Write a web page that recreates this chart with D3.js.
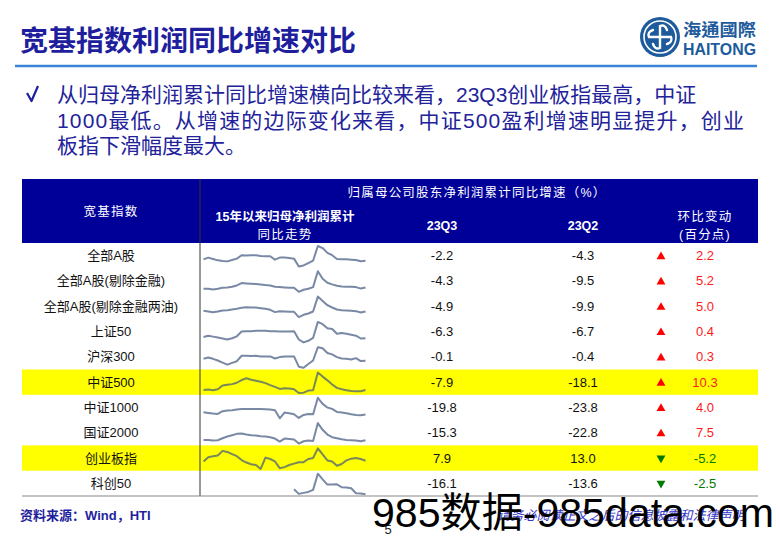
<!DOCTYPE html>
<html>
<head>
<meta charset="utf-8">
<script src="https://cdn.jsdelivr.net/npm/d3@7"></script>
<style>
  body { margin: 0; background: #fff; }
  svg { display: block; font-family: "Liberation Sans", "Noto Sans CJK SC", sans-serif; }
</style>
</head>
<body>
<svg width="780" height="539"></svg>
<script>
// table values
var indexNames = ["全部A股", "全部A股(剔除金融)", "全部A股(剔除金融两油)", "上证50", "沪深300",
  "中证500", "中证1000", "国证2000", "创业板指", "科创50"];
var q3Values = [-2.2, -4.3, -4.9, -6.3, -0.1, -7.9, -19.8, -15.3, 7.9, -16.1];
var q2Values = [-4.3, -9.5, -9.9, -6.7, -0.4, -18.1, -23.8, -22.8, 13.0, -13.6];
var qoqChange = [2.2, 5.2, 5.0, 0.4, 0.3, 10.3, 4.0, 7.5, -5.2, -2.5];
var highlightRows = ["中证500", "创业板指"];

// sparkline quarters, 15Q1 .. 23Q3
var quarters = ["15Q1","15Q2","15Q3","15Q4","16Q1","16Q2","16Q3","16Q4","17Q1","17Q2","17Q3","17Q4",
  "18Q1","18Q2","18Q3","18Q4","19Q1","19Q2","19Q3","19Q4","20Q1","20Q2","20Q3","20Q4",
  "21Q1","21Q2","21Q3","21Q4","22Q1","22Q2","22Q3","22Q4","23Q1","23Q2","23Q3"];

// cumulative yoy net profit growth (%)
var trendAll = [3.8,11.3,5.3,-0.7,-3.7,-5.2,0.8,6.8,21.8,20.3,21.8,21.8,18.8,17.3,17.3,2.3,11.3,11.3,9.8,6.8,
  -27.7,-23.2,-12.7,-2.2,62.3,53.3,32.3,21.8,5.3,3.8,3.8,2.3,0.8,-4.3,-2.2];
var trendExFin = [-10.3,-10.3,-13.3,-10.3,-5.8,-4.3,-1.3,4.7,15.2,13.7,12.2,10.7,9.2,6.2,4.7,-1.3,-2.8,-4.3,-5.8,-5.8,
  -23.8,-14.8,-10.3,-2.8,67.7,34.7,16.7,9.2,3.2,0.2,-1.3,-1.3,-2.8,-9.5,-4.3];
var trendExFinOil = [-1.9,-4.9,-7.9,-4.9,-0.4,1.1,4.1,7.1,11.6,14.6,13.1,13.1,10.1,7.1,2.6,-7.9,-3.4,-4.9,-6.4,-6.4,
  -30.4,-19.9,-13.9,-4.9,62.6,43.1,23.6,13.1,4.1,1.1,-0.4,-1.9,-3.4,-9.9,-4.9];
var trendSz50 = [-4.3,-2.3,-3.8,-5.3,-6.8,-8.3,-6.3,-3.3,4.2,4.7,4.7,5.2,5.2,5.2,4.7,4.7,4.2,4.2,4.2,4.7,
  -8.3,-12.8,-10.3,-5.8,19.2,15.7,9.2,8.2,0.7,1.7,0.7,-0.8,-2.3,-6.7,-6.3];
var trendHs300 = [2.9,4.9,2.9,0.4,-2.6,-5.6,-3.1,-0.6,7.4,7.4,6.9,7.4,6.4,6.4,6.4,3.4,5.4,6.4,6.4,6.4,
  -8.6,-10.1,-4.6,0.4,19.9,18.4,11.4,9.4,5.4,3.4,2.9,1.9,3.9,-0.4,-0.1];
var trendZz500 = [-7.9,-5.4,-10.4,-2.9,24.6,29.6,34.6,44.6,64.6,77.1,67.1,59.6,52.1,42.1,27.1,14.6,-0.4,4.6,2.1,-2.9,
  -30.4,-27.9,-12.9,-10.4,119.6,89.6,62.1,32.1,7.1,-2.9,-10.4,-15.4,-17.9,-18.1,-7.9];
var trendZz1000 = [-5.8,-9.8,-13.8,-15.8,0.2,4.2,6.2,10.2,14.2,14.2,14.2,14.2,14.2,12.2,10.2,6.2,-41.8,-7.8,-11.8,-17.8,
  -39.8,-21.8,-15.8,-17.8,80.2,44.2,22.2,14.2,-3.8,-7.8,-11.8,-17.8,-21.8,-23.8,-19.8];
var trendGz2000 = [-12.8,-12.8,-17.8,-15.3,-0.3,12.2,22.2,32.2,34.7,27.2,22.2,19.7,14.7,12.2,7.2,-2.8,-25.3,-2.8,-5.3,-10.3,
  -40.3,-22.8,-17.8,-20.3,112.2,62.2,27.2,7.2,-0.3,-7.8,-12.8,-15.3,-17.8,-22.8,-15.3];
var trendCyb = [5.9,17.9,20.9,22.9,35.9,32.9,26.9,20.9,9.9,2.9,-2.1,-4.1,-15.1,16.9,12.9,5.9,-13.1,-10.1,-4.1,-0.1,
  3.9,3.9,12.9,15.9,42.9,25.9,8.9,5.9,-6.1,-1.1,8.9,13.9,15.9,13.0,7.9];
var trendKc50 = [null,null,null,null,null,null,null,null,null,null,null,null,null,null,null,null,null,null,null,2.7,
  -14.9,-11.1,-7.4,0.2,61.4,40.2,20.2,20.2,21.4,10.2,8.9,6.4,-12.4,-13.6,-16.1];
var trends = [trendAll, trendExFin, trendExFinOil, trendSz50, trendHs300,
  trendZz500, trendZz1000, trendGz2000, trendCyb, trendKc50];

var bulletLines = [
  "从归母净利润累计同比增速横向比较来看，23Q3创业板指最高，中证",
  "1000最低。从增速的边际变化来看，中证500盈利增速明显提升，创业",
  "板指下滑幅度最大。"
];

var svg = d3.select("svg");
var navy = "#1f1f9e";
// plain hyphen for negatives, like the source table
var fmt = d3.formatLocale({ decimal: ".", thousands: ",", grouping: [3], currency: ["", ""], minus: "-" }).format(".1f");

// ---- title + logo
svg.append("text")
  .attr("x", 20).attr("y", 51)
  .style("font-family", "'Noto Sans CJK SC'")
  .style("font-weight", "bold")
  .style("font-size", "28px")
  .style("fill", navy)
  .text("宽基指数利润同比增速对比");

svg.append("line")
  .attr("x1", 15).attr("x2", 757).attr("y1", 66).attr("y2", 66)
  .style("stroke", "#3a84d6").style("stroke-width", 2.5);

var logo = svg.append("g").attr("transform", "translate(660,37)");
logo.append("circle").attr("r", 20).style("fill", "#1d5b9c");
logo.append("circle").attr("r", 16).style("fill", "none").style("stroke", "#fff").style("stroke-width", 1.6);
[0, 90, 180, 270].forEach(function(a) {
  logo.append("path")
    .attr("transform", "rotate(" + a + ")")
    .attr("d", "M0,0 L0,-11 Q5,-13 7,-7")
    .style("fill", "none").style("stroke", "#fff").style("stroke-width", 2.4)
    .style("stroke-linecap", "round");
});
svg.append("text").attr("x", 683).attr("y", 36)
  .attr("textLength", 73).attr("lengthAdjust", "spacingAndGlyphs")
  .style("font-family", "'Noto Sans CJK TC'").style("font-weight", "bold")
  .style("font-size", "17px").style("fill", "#1d5b9c").text("海通國際");
svg.append("text").attr("x", 683).attr("y", 55)
  .attr("textLength", 73).attr("lengthAdjust", "spacingAndGlyphs")
  .style("font-weight", "bold").style("font-size", "17px").style("fill", "#1d5b9c").text("HAITONG");

// ---- bullet text
svg.append("path")
  .attr("d", "M27,93 L31.5,101 L38,86")
  .style("fill", "none").style("stroke", navy).style("stroke-width", 2.2)
  .style("stroke-linejoin", "round");
svg.selectAll(".bullet")
  .data(bulletLines)
  .enter().append("text")
  .attr("class", "bullet")
  .attr("x", 57)
  .attr("y", function(d, i) { return 102 + i * 25.5; })
  .attr("textLength", function(d, i) { return i == 1 ? 687 : null; })
  .attr("lengthAdjust", "spacing")
  .style("font-size", "21px")
  .style("fill", "#22229a")
  .text(function(d) { return d; });

// ---- table
var left = 22, right = 758, divX = 200;
var headTop = 179, headBottom = 243, tableBottom = 496;
var colQ3 = 442, colQ2 = 583, colArrow = 661, colChg = 705;

var rowY = d3.scaleBand().domain(indexNames).range([headBottom, tableBottom]);

svg.append("rect")
  .attr("x", left).attr("y", headTop)
  .attr("width", right - left).attr("height", headBottom - headTop)
  .style("fill", "#000099");

svg.selectAll(".hl")
  .data(highlightRows)
  .enter().append("rect")
  .attr("class", "hl")
  .attr("x", left).attr("width", right - left)
  .attr("y", function(d) { return rowY(d); })
  .attr("height", rowY.bandwidth())
  .style("fill", "#ffff00");

var head = [
  { t: "宽基指数", x: 111, y: 216, b: false },
  { t: "归属母公司股东净利润累计同比增速（%）", x: 477, y: 197, b: false },
  { t: "15年以来归母净利润累计", x: 285, y: 221, b: true },
  { t: "同比走势", x: 285, y: 239, b: false },
  { t: "23Q3", x: colQ3, y: 230, b: true },
  { t: "23Q2", x: colQ2, y: 230, b: true },
  { t: "环比变动", x: 705, y: 221, b: false },
  { t: "(百分点)", x: 705, y: 239, b: false }
];
svg.selectAll(".head")
  .data(head)
  .enter().append("text")
  .attr("class", "head")
  .attr("x", function(d) { return d.x; })
  .attr("y", function(d) { return d.y; })
  .attr("text-anchor", "middle")
  .style("font-size", "12.5px")
  .style("font-weight", function(d) { return d.b ? "bold" : "normal"; })
  .style("letter-spacing", function(d) { return /^\d/.test(d.t) ? "0" : "1.2px"; })
  .style("fill", "#fff")
  .text(function(d) { return d.t; });

var rows = svg.selectAll(".row")
  .data(indexNames)
  .enter().append("g")
  .attr("class", "row")
  .attr("transform", function(d) { return "translate(0," + (rowY(d) + rowY.bandwidth() / 2) + ")"; });

rows.append("text")
  .attr("x", 111).attr("y", 4.5).attr("text-anchor", "middle")
  .style("font-size", "13px").style("fill", "#111")
  .text(function(d) { return d; });
rows.append("text")
  .attr("x", colQ3).attr("y", 4.5).attr("text-anchor", "middle")
  .style("font-size", "13px").style("fill", "#111")
  .text(function(d, i) { return fmt(q3Values[i]); });
rows.append("text")
  .attr("x", colQ2).attr("y", 4.5).attr("text-anchor", "middle")
  .style("font-size", "13px").style("fill", "#111")
  .text(function(d, i) { return fmt(q2Values[i]); });
rows.append("path")
  .attr("transform", function(d, i) { return "translate(" + colArrow + "," + (qoqChange[i] >= 0 ? 1 : 0) + ")" + (qoqChange[i] >= 0 ? "" : " rotate(180)"); })
  .attr("d", d3.symbol().type(d3.symbolTriangle).size(34))
  .style("fill", function(d, i) { return qoqChange[i] >= 0 ? "#ff0000" : "#007a00"; });
rows.append("text")
  .attr("x", colChg).attr("y", 4.5).attr("text-anchor", "middle")
  .style("font-size", "13px")
  .style("fill", function(d, i) { return qoqChange[i] >= 0 ? "#ff1a1a" : "#007a00"; })
  .text(function(d, i) { return fmt(qoqChange[i]); });

// sparklines
var sx = d3.scalePoint().domain(quarters).range([203.5, 365.5]);
indexNames.forEach(function(name, i) {
  var top = rowY(name);
  var vals = trends[i];
  var sy = d3.scaleLinear()
    .domain(d3.extent(vals.filter(function(v) { return v != null; })))
    .range([top + 23.5, top + 3]);
  var line = d3.line()
    .defined(function(d) { return d != null; })
    .x(function(d, j) { return sx(quarters[j]); })
    .y(function(d) { return sy(d); });
  svg.append("path")
    .datum(vals)
    .attr("d", line)
    .style("fill", "none")
    .style("stroke", "#40557f")
    .style("stroke-opacity", 0.7)
    .style("stroke-width", 2)
    .style("stroke-linejoin", "round");
});

svg.append("line")
  .attr("x1", divX).attr("x2", divX).attr("y1", headTop).attr("y2", tableBottom)
  .style("stroke", "#333").style("stroke-width", 1);
svg.append("line")
  .attr("x1", left).attr("x2", right).attr("y1", tableBottom).attr("y2", tableBottom)
  .style("stroke", "#888").style("stroke-width", 1.2);

// ---- footer
svg.append("text").attr("x", 20).attr("y", 520)
  .style("font-size", "13px").style("font-weight", "bold").style("fill", navy)
  .text("资料来源：Wind，HTI");
svg.append("text").attr("x", 621).attr("y", 520).attr("text-anchor", "middle")
  .style("font-size", "13px").style("font-style", "italic").style("fill", "#3535c8")
  .text("请务必阅读正文之后的信息披露和法律声明");
svg.append("text").attr("x", 388).attr("y", 534).attr("text-anchor", "middle")
  .style("font-size", "13px").style("fill", "#222").text("5");
svg.append("text").attr("x", 372).attr("y", 527)
  .attr("textLength", 402).attr("lengthAdjust", "spacingAndGlyphs")
  .style("font-size", "41px").style("fill", "#000").text("985数据-985data.com");
</script>
</body>
</html>
